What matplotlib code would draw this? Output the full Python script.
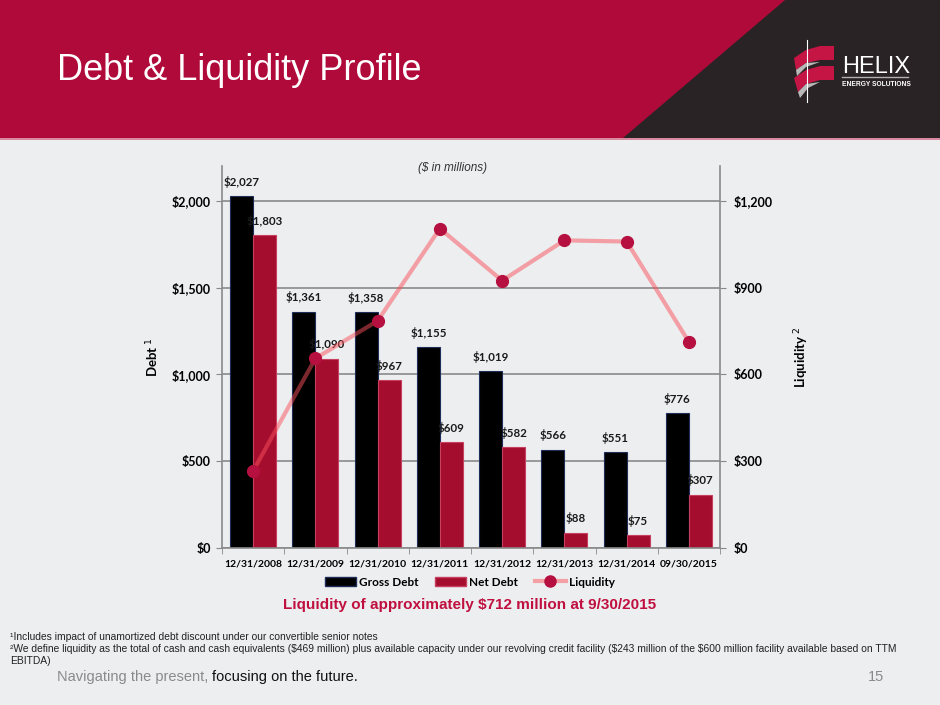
import matplotlib.pyplot as plt
import matplotlib.patches as mpatches
from matplotlib.lines import Line2D
import numpy as np

# chart data ($ in millions)
dates = ['12/31/2008', '12/31/2009', '12/31/2010', '12/31/2011',
         '12/31/2012', '12/31/2013', '12/31/2014', '09/30/2015']
gross_debt = [2027, 1361, 1358, 1155, 1019, 566, 551, 776]
net_debt = [1803, 1090, 967, 609, 582, 88, 75, 307]
liquidity = [266, 655, 785, 1104, 924, 1063, 1059, 712]

left_ticks = [0, 500, 1000, 1500, 2000]
right_ticks = [0, 300, 600, 900, 1200]

CRIMSON = '#b00a3a'
NET_RED = '#a50d2e'
DARK = '#2a2325'
ARIAL = 'Liberation Sans'

plt.rcParams['font.family'] = ['Lato', 'DejaVu Sans']

fig = plt.figure(figsize=(9.4, 7.05), dpi=100)
fig.patch.set_facecolor('#eceef0')

# background layer in pixel coords
bg = fig.add_axes([0, 0, 1, 1])
bg.set_xlim(0, 940)
bg.set_ylim(705, 0)
bg.axis('off')
bg.add_patch(mpatches.Rectangle((0, 0), 940, 138, color=CRIMSON, lw=0))
bg.add_patch(mpatches.Polygon([(785, 0), (940, 0), (940, 138), (623, 138)],
                              closed=True, color=DARK, lw=0))
bg.add_patch(mpatches.Rectangle((0, 138), 940, 2, color='#d98aa0', lw=0))
bg.text(57, 80, 'Debt & Liquidity Profile', color='white', fontsize=26,
        family=ARIAL, va='baseline', ha='left')

# logo
red = '#c41545'
bg.add_patch(mpatches.Polygon([(794, 58), (806, 50), (820, 46), (834, 46), (834, 60), (820, 60), (806, 63), (796, 70)],
                              closed=True, color=red, lw=0))
bg.add_patch(mpatches.Polygon([(794, 78), (806, 70), (820, 66), (834, 66), (834, 80), (820, 80), (806, 84), (798, 92)],
                              closed=True, color=red, lw=0))
bg.add_patch(mpatches.Polygon([(796, 70), (806, 63), (820, 62), (806, 67), (797, 76)],
                              closed=True, color='#b8b8b8', lw=0))
bg.add_patch(mpatches.Polygon([(798, 92), (806, 84), (820, 82), (808, 88), (800, 98)],
                              closed=True, color='#b8b8b8', lw=0))
bg.plot([807, 807], [40, 102], color='white', lw=0.8)
bg.text(842, 73, 'HELIX', color='white', fontsize=17, family=ARIAL,
        va='baseline', ha='left')
bg.plot([842, 908], [77, 77], color='#b0b0b0', lw=1)
bg.text(842, 84, 'ENERGY SOLUTIONS', color='white', fontsize=4.8, fontweight='bold',
        family=ARIAL, va='center', ha='left')

# chart
ax = fig.add_axes([222 / 940, 1 - 548 / 705, (720 - 222) / 940, (548 - 166) / 705])
ax.set_facecolor('none')
x = np.arange(len(dates))
w = 0.37
ax.bar(x - w / 2, gross_debt, w, color='black', edgecolor='#1f2d5a', lw=0.8, zorder=2)
ax.bar(x + w / 2, net_debt, w, color=NET_RED, edgecolor='#c84060', lw=0.8, zorder=2)

for i in range(len(dates)):
    ax.annotate('${:,}'.format(gross_debt[i]), (x[i] - w / 2, gross_debt[i]),
                xytext=(0, 6), textcoords='offset points', ha='center', va='bottom',
                fontsize=8.3, fontweight='bold', color='#1a1a1a')
    ax.annotate('${:,}'.format(net_debt[i]), (x[i] + w / 2, net_debt[i]),
                xytext=(0, 6), textcoords='offset points', ha='center', va='bottom',
                fontsize=8.3, fontweight='bold', color='#1a1a1a')

ax.set_xlim(-0.5, len(dates) - 0.5)
ax.set_ylim(0, 2200)
ax.set_yticks(left_ticks)
ax.set_yticklabels(['${:,}'.format(v) for v in left_ticks], fontsize=9, fontweight='bold')
ax.set_xticks(x)
ax.set_xticklabels(dates, fontsize=7.5, fontweight='bold')
ax.set_xticks(np.arange(-0.5, len(dates)), minor=True)
ax.tick_params(axis='x', which='major', length=0, pad=8)
ax.tick_params(axis='x', which='minor', length=4, color='#888888')
ax.tick_params(axis='y', length=4, color='#888888', pad=4)
ax.yaxis.grid(True, color='#8a8a8a', lw=1.2, zorder=0)
ax.set_axisbelow(True)
for s in ['top', 'right']:
    ax.spines[s].set_visible(False)
for s in ['left', 'bottom']:
    ax.spines[s].set_color('#8a8a8a')
    ax.spines[s].set_linewidth(1.2)
ax.set_ylabel('Debt $^{1}$', fontsize=9.5, fontweight='bold', labelpad=8)

ax2 = ax.twinx()
ax2.plot(x, liquidity, color='#fa505a', alpha=0.5, lw=3, zorder=3)
ax2.plot(x, liquidity, ls='none', marker='o', ms=8.5, color='#b5103f', zorder=4)
ax2.set_ylim(0, 1320)
ax2.set_yticks(right_ticks)
ax2.set_yticklabels(['${:,}'.format(v) for v in right_ticks], fontsize=9, fontweight='bold')
ax2.tick_params(axis='y', length=4, color='#888888', pad=6)
for s in ['top', 'left', 'bottom']:
    ax2.spines[s].set_visible(False)
ax2.spines['right'].set_color('#8a8a8a')
ax2.spines['right'].set_linewidth(1.2)
ax2.set_ylabel('Liquidity $^{2}$', fontsize=9.5, fontweight='bold', rotation=90, labelpad=14)

bg.text(453, 168, '($ in millions)', fontsize=8.5, style='italic', color='#333333',
        family=ARIAL, ha='center', va='center')

handles = [mpatches.Patch(facecolor='black', edgecolor='#1f2d5a', label='Gross Debt'),
           mpatches.Patch(facecolor=NET_RED, edgecolor='#c84060', label='Net Debt'),
           Line2D([], [], color='#f5a0a5', lw=3, marker='o', ms=8, mfc='#b5103f',
                  mec='#b5103f', label='Liquidity')]
leg = fig.legend(handles=handles, loc='center', bbox_to_anchor=(470 / 940, 1 - 582 / 705),
                 ncol=3, frameon=False, prop={'size': 8.5, 'weight': 'bold'},
                 handlelength=2.6, handleheight=0.9, columnspacing=1.4, handletextpad=0.3)

bg.text(470, 605, 'Liquidity of approximately $712 million at 9/30/2015', color='#c0103f',
        fontsize=11, fontweight='bold', family=ARIAL, ha='center', va='center')

# footnotes and footer
fn = 7.4
bg.text(10, 637, '¹Includes impact of unamortized debt discount under our convertible senior notes',
        fontsize=fn, color='#222222', family=ARIAL, va='center')
bg.text(10, 649, '²We define liquidity as the total of cash and cash equivalents ($469 million) plus available '
        'capacity under our revolving credit facility ($243 million of the $600 million facility available based on TTM',
        fontsize=fn, color='#222222', family=ARIAL, va='center')
bg.text(10, 661, 'EBITDA)', fontsize=fn, color='#222222', family=ARIAL, va='center')
t = bg.text(57, 677, 'Navigating the present, ', fontsize=10.5, color='#8a8a8a',
            family=ARIAL, va='center')
bg.annotate('focusing on the future.', xycoords=t, xy=(1, 0.5), va='center', ha='left',
            fontsize=10.5, color='#111111', family=ARIAL)
bg.text(884, 677, '15', fontsize=10.5, color='#8a8a8a', family=ARIAL,
        va='center', ha='right')

fig.savefig('out.png', dpi=100, facecolor=fig.get_facecolor())
